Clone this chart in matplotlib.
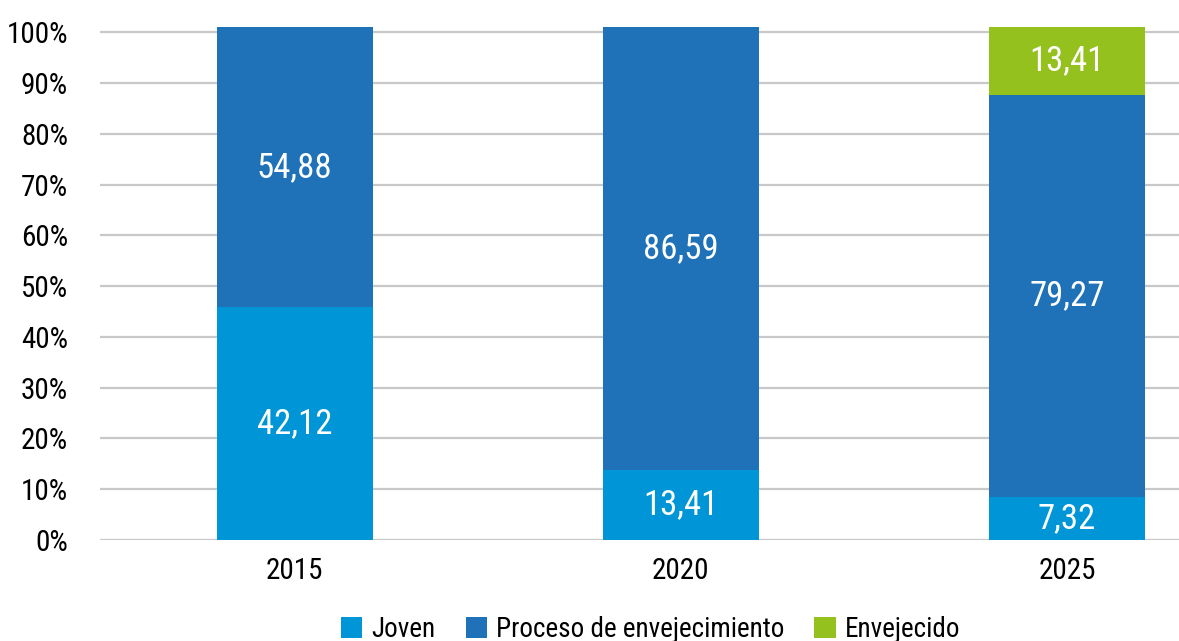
import matplotlib.pyplot as plt
from matplotlib import font_manager

years = ["2015", "2020", "2025"]
series = ["Joven", "Proceso de envejecimiento", "Envejecido"]

# bar heights as drawn (percent of axis)
joven = [45.8, 13.8, 8.5]
proceso = [55.2, 87.2, 79.1]
envejecido = [0.0, 0.0, 13.4]

# values printed on the bars
joven_txt = ["42,12", "13,41", "7,32"]
proceso_txt = ["54,88", "86,59", "79,27"]
envejecido_txt = ["", "", "13,41"]

yticks = [0, 10, 20, 30, 40, 50, 60, 70, 80, 90, 100]
colors = ["#0095d6", "#1f71b8", "#95c11f"]

# narrow font if there is one
installed = {f.name for f in font_manager.fontManager.ttflist}
font = "Liberation Sans"
for name in ["Roboto Condensed", "Liberation Sans Narrow", "Noto Sans Condensed"]:
    if name in installed:
        font = name
        break
plt.rcParams['font.family'] = [font, 'DejaVu Sans']

fig = plt.figure(figsize=(11.79, 6.41), dpi=100)
ax = fig.add_axes([100 / 1179, 101 / 641, 1079 / 1179, 518 / 641])

x = range(len(years))
w = 0.404
b1 = ax.bar(x, joven, w, color=colors[0], label=series[0], zorder=3)
b2 = ax.bar(x, proceso, w, bottom=joven, color=colors[1], label=series[1], zorder=3)
bottom3 = [a + b for a, b in zip(joven, proceso)]
b3 = ax.bar(x, envejecido, w, bottom=bottom3, color=colors[2], label=series[2], zorder=3)

for bars, txt in [(b1, joven_txt), (b2, proceso_txt), (b3, envejecido_txt)]:
    ax.bar_label(bars, labels=txt, label_type='center', color='white', fontsize=25)

ax.set_xlim(-0.504, 2.29)
ax.set_ylim(0, 102)
ax.set_yticks(yticks)
ax.set_yticklabels([f"{t}%" for t in yticks], fontsize=21)
ax.set_xticks(list(x))
ax.set_xticklabels(years, fontsize=21)
ax.tick_params(length=0)
ax.tick_params(axis='x', pad=12)
ax.tick_params(axis='y', pad=23)
ax.grid(axis='y', color='#c8c8c8', linewidth=1.6, zorder=0)
for s in ax.spines.values():
    s.set_visible(False)

leg = fig.legend(handles=[b1, b2, b3], labels=series, loc='center',
                 bbox_to_anchor=(0.552, 0.018), ncol=3, frameon=False,
                 fontsize=19.5, handlelength=0.78, handleheight=0.78,
                 handletextpad=0.35, columnspacing=1.1)

fig.savefig("out.png", dpi=100)
